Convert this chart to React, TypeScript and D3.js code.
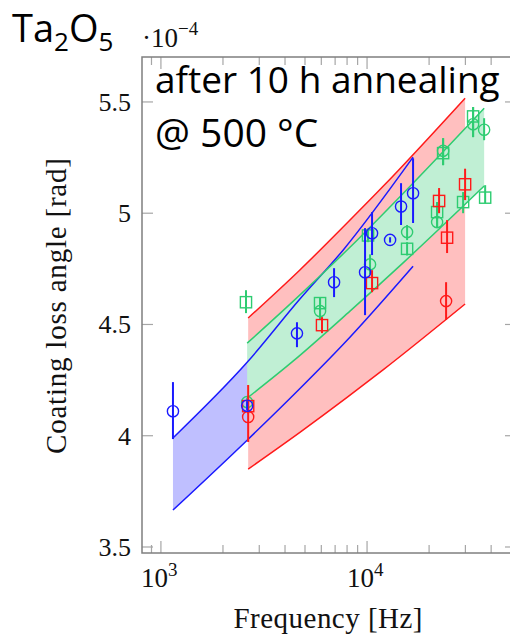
import React from 'react';
import * as d3 from 'd3';

// ---- data (frequency in Hz, loss angle in units of 1e-4 rad) ----
const blueBandFreq = [1144, 2620, 4700, 7650, 16720];
const blueBandLow = [3.666, 3.98, 4.21, 4.41, 4.762];
const blueBandHigh = [3.99, 4.33, 4.612, 4.834, 5.252];

const redBandFreq = [2650, 4723, 8000, 12000, 29900];
const redBandLow = [3.85, 4.015, 4.172, 4.297, 4.592];
const redBandHigh = [4.529, 4.745, 4.956, 5.122, 5.517];

const greenBandFreq = [2620, 4375, 8262, 15000, 37000];
const greenBandLow = [4.169, 4.335, 4.56, 4.778, 5.122];
const greenBandHigh = [4.416, 4.604, 4.847, 5.09, 5.472];

// markers: freq, value, lower, upper
const blueCircFreq = [1144, 2620, 4571, 6918, 9779, 10575, 12935, 14620, 16720];
const blueCircVal = [4.11, 4.135, 4.46, 4.69, 4.735, 4.91, 4.88, 5.03, 5.09];
const blueCircLo = [3.985, 4.115, 4.398, 4.623, 4.542, 4.812, 4.868, 4.947, 4.956];
const blueCircHi = [4.241, 4.155, 4.51, 4.753, 4.933, 5.005, 4.892, 5.135, 5.247];

const redSqFreq = [2650, 6047, 10575, 22360, 24450, 29900];
const redSqVal = [4.133, 4.497, 4.686, 5.055, 4.89, 5.13];
const redSqLo = [4.10, 4.461, 4.645, 5.0, 4.821, 5.059];
const redSqHi = [4.165, 4.533, 4.744, 5.113, 4.969, 5.2];

const redCircFreq = [2650, 24180];
const redCircVal = [4.084, 4.605];
const redCircLo = [3.972, 4.52];
const redCircHi = [4.228, 4.69];

const greenSqFreq = [2586, 5916, 10110, 15640, 21870, 23390, 29240, 32700, 37410];
const greenSqVal = [4.60, 4.596, 4.90, 4.84, 5.005, 5.27, 5.05, 5.435, 5.07];
const greenSqLo = [4.551, 4.52, 4.87, 4.81, 4.937, 5.216, 5.0, 5.342, 5.045];
const greenSqHi = [4.654, 4.623, 4.93, 4.87, 5.05, 5.337, 5.095, 5.477, 5.126];

const greenCircFreq = [2620, 5916, 10340, 15640, 21870, 23390, 32700, 36980];
const greenCircVal = [4.151, 4.56, 4.77, 4.915, 4.96, 5.28, 5.40, 5.375];
const greenCircLo = [4.13, 4.52, 4.725, 4.879, 4.937, 5.216, 5.342, 5.328];
const greenCircHi = [4.17, 4.623, 4.815, 4.947, 5.05, 5.337, 5.477, 5.427];

const yTicks = [3.5, 4, 4.5, 5, 5.5];
const yTickLabels = ['3.5', '4', '4.5', '5', '5.5'];
const xMajor = [1000, 10000];
const xMajorExp = ['3', '4'];
const xMinor = [900, 2000, 3000, 4000, 5000, 6000, 7000, 8000, 9000, 20000, 30000, 40000, 50000];

const BLUE = '#1a1aff';
const RED = '#ff1a1a';
const GREEN = '#2ecc71';
const BLUE_F = '#bfbfff';
const RED_F = '#ffbfbf';
const GREEN_F = '#c0efd4';
const AXIS = '#7f7f7f';
const TICK = '#a6a6a6';

const X0 = 142, X1 = 516, Y0 = 57, Y1 = 553;
const x = d3.scaleLog().domain([809.5, 52800]).range([X0, X1]);
const y = d3.scaleLinear().domain([3.473, 5.702]).range([Y1, Y0]);

const serif = "'Liberation Serif', 'Times New Roman', serif";
const sans = "'Open Sans', 'Noto Sans', sans-serif";

type Band = { f: number[]; lo: number[]; hi: number[] };

function bandPaths(b: Band) {
  const pts = b.f.map((f, i) => ({ f, lo: b.lo[i], hi: b.hi[i] }));
  const area = d3.area<any>().x(d => x(d.f)).y0(d => y(d.lo)).y1(d => y(d.hi)).curve(d3.curveMonotoneX);
  const lo = d3.line<any>().x(d => x(d.f)).y(d => y(d.lo)).curve(d3.curveMonotoneX);
  const hi = d3.line<any>().x(d => x(d.f)).y(d => y(d.hi)).curve(d3.curveMonotoneX);
  return { area: area(pts) || '', lo: lo(pts) || '', hi: hi(pts) || '' };
}

function Markers(props: { f: number[]; v: number[]; lo: number[]; hi: number[]; color: string; shape: 'c' | 's' }) {
  const { f, v, lo, hi, color, shape } = props;
  return (
    <g>
      {f.map((fr, i) => {
        const cx = x(fr), cy = y(v[i]);
        return (
          <g key={i}>
            {shape === 'c' ? (
              <circle cx={cx} cy={cy} r={5.6} fill="none" stroke={color} strokeWidth={1.4} />
            ) : (
              <rect x={cx - 5.6} y={cy - 5.6} width={11.2} height={11.2} fill="none" stroke={color} strokeWidth={1.4} />
            )}
            <line x1={cx} x2={cx} y1={y(lo[i])} y2={y(hi[i])} stroke={color} strokeWidth={2} />
          </g>
        );
      })}
    </g>
  );
}

export default function App() {
  const blue = bandPaths({ f: blueBandFreq, lo: blueBandLow, hi: blueBandHigh });
  const red = bandPaths({ f: redBandFreq, lo: redBandLow, hi: redBandHigh });
  const green = bandPaths({ f: greenBandFreq, lo: greenBandLow, hi: greenBandHigh });

  return (
    <svg width={510} height={638} style={{ position: 'absolute', left: 0, top: 0, background: '#fff' }}>
      <rect x={0} y={0} width={510} height={638} fill="#fff" />
      {/* fills */}
      <path d={blue.area} fill={BLUE_F} />
      <path d={red.area} fill={RED_F} />
      <path d={green.area} fill={GREEN_F} />
      {/* band lines */}
      <path d={blue.lo} fill="none" stroke={BLUE} strokeWidth={1.5} />
      <path d={blue.hi} fill="none" stroke={BLUE} strokeWidth={1.5} />
      <path d={red.lo} fill="none" stroke={RED} strokeWidth={1.5} />
      <path d={red.hi} fill="none" stroke={RED} strokeWidth={1.5} />
      <path d={green.lo} fill="none" stroke={GREEN} strokeWidth={1.5} />
      <path d={green.hi} fill="none" stroke={GREEN} strokeWidth={1.5} />

      {/* markers */}
      <Markers f={greenSqFreq} v={greenSqVal} lo={greenSqLo} hi={greenSqHi} color={GREEN} shape="s" />
      <Markers f={greenCircFreq} v={greenCircVal} lo={greenCircLo} hi={greenCircHi} color={GREEN} shape="c" />
      <Markers f={redSqFreq} v={redSqVal} lo={redSqLo} hi={redSqHi} color={RED} shape="s" />
      <Markers f={redCircFreq} v={redCircVal} lo={redCircLo} hi={redCircHi} color={RED} shape="c" />
      <Markers f={blueCircFreq} v={blueCircVal} lo={blueCircLo} hi={blueCircHi} color={BLUE} shape="c" />

      {/* ticks */}
      {yTicks.map((t, i) => (
        <g key={'y' + i}>
          <line x1={X0} x2={X0 + 11} y1={y(t)} y2={y(t)} stroke={TICK} strokeWidth={1.2} />
          <line x1={X1} x2={X1 - 11} y1={y(t)} y2={y(t)} stroke={TICK} strokeWidth={1.2} />
          <text x={131} y={y(t) + 9} textAnchor="end" fontFamily={serif} fontSize={26} fill="#111">{yTickLabels[i]}</text>
        </g>
      ))}
      {xMajor.map((t, i) => (
        <g key={'xM' + i}>
          <line x1={x(t)} x2={x(t)} y1={Y1} y2={Y1 - 12} stroke={TICK} strokeWidth={1.2} />
          <line x1={x(t)} x2={x(t)} y1={Y0} y2={Y0 + 12} stroke={TICK} strokeWidth={1.2} />
          <text x={x(t) - 20} y={587} fontFamily={serif} fontSize={27} fill="#111">
            10<tspan dy={-11} fontSize={19}>{xMajorExp[i]}</tspan>
          </text>
        </g>
      ))}
      {xMinor.map((t, i) => (
        <g key={'xm' + i}>
          <line x1={x(t)} x2={x(t)} y1={Y1} y2={Y1 - 8} stroke={TICK} strokeWidth={1.2} />
          <line x1={x(t)} x2={x(t)} y1={Y0} y2={Y0 + 8} stroke={TICK} strokeWidth={1.2} />
        </g>
      ))}
      {/* frame */}
      <rect x={X0} y={Y0} width={X1 - X0} height={Y1 - Y0} fill="none" stroke={AXIS} strokeWidth={1.5} />

      {/* axis labels */}
      <text x={328} y={628} textAnchor="middle" fontFamily={serif} fontSize={29} textLength={189} lengthAdjust="spacing" fill="#111">Frequency [Hz]</text>
      <text transform="translate(66,306) rotate(-90)" textAnchor="middle" fontFamily={serif} fontSize={29} textLength={296} lengthAdjust="spacing" fill="#111">Coating loss angle [rad]</text>

      {/* scale factor */}
      <text x={142} y={47} fontFamily={serif} fontSize={27} fill="#111">
        ·10<tspan dy={-12} fontSize={19}>−4</tspan>
      </text>

      {/* title */}
      <text x={12} y={42} fontFamily={sans} fontSize={38} fill="#000">
        Ta<tspan dy={9} fontSize={26}>2</tspan><tspan dy={-9}>O</tspan><tspan dy={9} fontSize={26}>5</tspan>
      </text>

      {/* annotation */}
      <text x={155} y={93} fontFamily={sans} fontSize={37} fill="#000">after 10 h annealing</text>
      <text x={155} y={147} fontFamily={sans} fontSize={39} fill="#000">@ 500 °C</text>
    </svg>
  );
}
